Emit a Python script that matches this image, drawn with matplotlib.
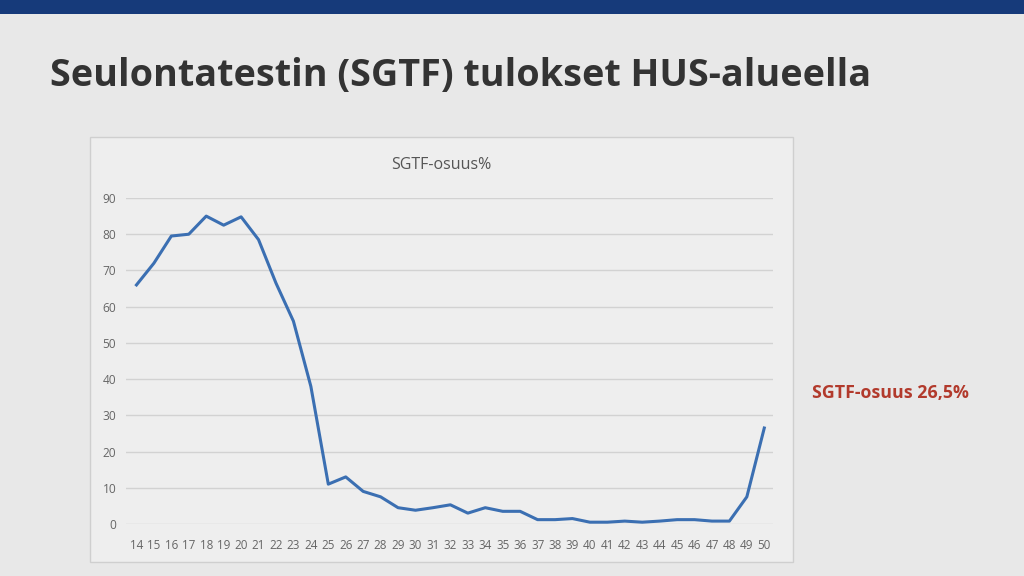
import matplotlib.pyplot as plt
from matplotlib.patches import Rectangle

# viikot ja SGTF-osuus (%)
weeks = list(range(14, 51))
sgtf = [66, 72, 79.5, 80, 85, 82.5, 84.8, 78.5, 66.5, 56, 38, 11, 13, 9, 7.5,
        4.5, 3.8, 4.5, 5.3, 3, 4.5, 3.5, 3.5, 1.2, 1.2, 1.5, 0.5, 0.5, 0.8,
        0.5, 0.8, 1.2, 1.2, 0.8, 0.8, 7.5, 26.5]
yticks = list(range(0, 91, 10))

plt.rcParams['font.family'] = ['Open Sans', 'DejaVu Sans']

fig = plt.figure(figsize=(10.24, 5.76), dpi=100)
fig.patch.set_facecolor('#e8e8e8')

# top band
fig.patches.append(Rectangle((0, 1 - 14 / 576), 1, 14 / 576, transform=fig.transFigure,
                             facecolor='#163a7a', edgecolor='none', zorder=-10))
# chart box
fig.patches.append(Rectangle((90 / 1024, 14 / 576), 703 / 1024, 425 / 576,
                             transform=fig.transFigure, facecolor='#eeeeee',
                             edgecolor='#cfcfcf', linewidth=1, zorder=-10))

fig.text(50 / 1024, 1 - 76 / 576, 'Seulontatestin (SGTF) tulokset HUS-alueella',
         fontsize=27.2, fontweight='bold', color='#333333', va='center', ha='left')
fig.text(812 / 1024, 1 - 393 / 576, 'SGTF-osuus 26,5%', fontsize=12.8,
         fontweight='bold', color='#b23a2c', va='center', ha='left')

ax = fig.add_axes([126 / 1024, 52 / 576, 647 / 1024, 326 / 576])
ax.set_facecolor('none')
ax.plot(weeks, sgtf, color='#3b6fb2', linewidth=2.2, solid_joinstyle='round')
ax.set_xlim(13.4, 50.5)
ax.set_ylim(0, 90)
ax.set_yticks(yticks)
ax.set_xticks(weeks)
ax.grid(axis='y', color='#d2d2d2', linewidth=1)
ax.set_axisbelow(True)
for s in ax.spines.values():
    s.set_visible(False)
ax.tick_params(length=0, colors='#666666')
ax.tick_params(axis='x', pad=11, labelsize=8.4)
ax.tick_params(axis='y', pad=7, labelsize=8.6)
fig.text(441 / 1024, 1 - 165 / 576, 'SGTF-osuus%', fontsize=11.5, color='#555555',
         ha='center', va='center')

fig.savefig('out.png', dpi=100, facecolor=fig.get_facecolor())
